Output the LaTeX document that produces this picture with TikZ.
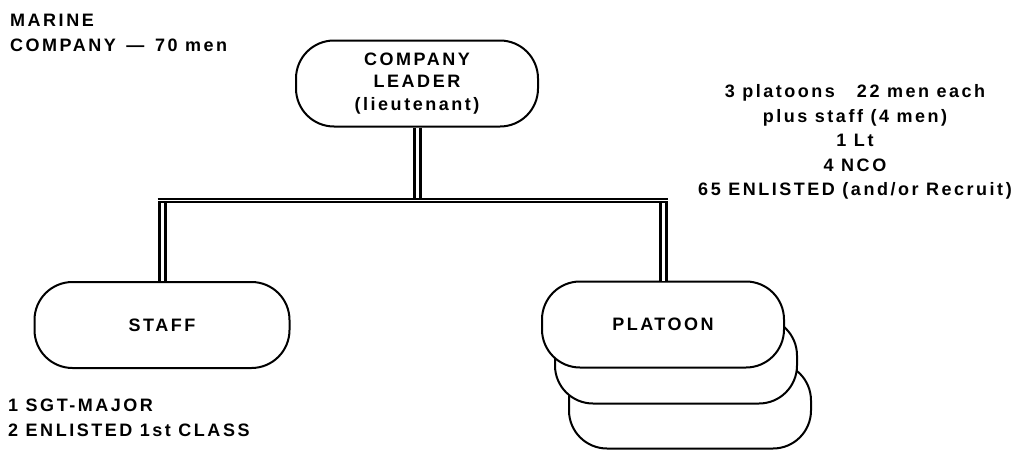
\documentclass[tikz,border=0pt]{standalone}
\usepackage{fontspec}
\setmainfont{Liberation Sans}[LetterSpace=14]
\usepackage{tikz}
\usetikzlibrary{calc}
\newcommand{\orgfont}{\fontsize{18}{22.5}\selectfont\bfseries}
\newcommand{\notefont}{\fontsize{18}{24.5}\selectfont\bfseries}
\tikzset{
  orgbox/.style ={rectangle, draw=black, fill=white, line width=2pt, rounded corners=38pt,
                  minimum width=242pt, minimum height=86pt, inner sep=0pt,
                  align=center, font=\orgfont},
  orgline/.style={draw=black, double=white, double distance=3pt, line width=3pt},
  orgbar/.style ={draw=black, double=white, double distance=1pt, line width=2pt,
                  shorten <=-4.5pt, shorten >=-4.5pt},
  orgnote/.style={inner sep=0pt, font=\notefont},
}

\begin{document}
\begin{tikzpicture}[x=1pt, y=-1pt]
\useasboundingbox (0,0) rectangle (1029,455);
\node[orgnote, anchor=west, align=left] (title) at (10,33) {MARINE\\COMPANY \,—\, 70 men};
\node[orgbox] (lead) at (417,83.5) {COMPANY\\LEADER\\(lieutenant)};
\node[orgnote, align=center] (info) at (855,142) {3 platoons\hspace{22pt}22 men each\\plus staff (4 men)\\1 Lt\\4 NCO\\65 ENLISTED (and/or Recruit)};
\node[orgbox, minimum width=255pt] (staff) at (162,325) {STAFF};
\node[orgnote, anchor=west, align=left] (staffnote) at (8,418) {1 SGT-MAJOR\\2 ENLISTED 1st CLASS};
% platoons, back ones first
\node[orgbox] (plat3) at (690,405.5) {};
\node[orgbox] (plat2) at (676,360.5) {};
\node[orgbox] (plat) at (663,324.5) {PLATOON};
\coordinate (bar) at (417,200);
\draw[orgline] (lead) -- (lead |- bar);
\draw[orgline] (staff) -- (staff |- bar);
\draw[orgline] (plat) -- (plat |- bar);
\draw[orgbar] (staff |- bar) -- (plat |- bar);
\end{tikzpicture}
\end{document}
